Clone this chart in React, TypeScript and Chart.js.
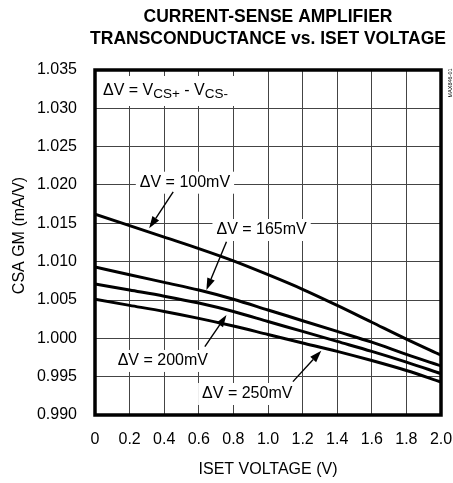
import React, { useEffect, useRef } from 'react';
import { Chart, registerables } from 'chart.js';

Chart.register(...registerables);

// ---- data ----
const isetVoltage = [0, 0.2, 0.4, 0.6, 0.8, 1.0, 1.2, 1.4, 1.6, 1.8, 2.0];
const gm100mV = [1.0162, 1.0147, 1.0132, 1.0117, 1.0101, 1.0083, 1.0064, 1.0043, 1.0021, 0.9999, 0.9978];
const gm165mV = [1.0093, 1.0083, 1.0073, 1.0063, 1.0051, 1.0037, 1.0023, 1.0009, 0.9995, 0.9979, 0.9964];
const gm200mV = [1.0071, 1.0063, 1.0055, 1.0046, 1.0035, 1.0022, 1.0009, 0.9996, 0.9983, 0.9969, 0.9954];
const gm250mV = [1.0051, 1.0043, 1.0035, 1.0026, 1.0016, 1.0005, 0.9994, 0.9983, 0.9971, 0.9958, 0.9943];

const seriesLabels = ['ΔV = 100mV', 'ΔV = 165mV', 'ΔV = 200mV', 'ΔV = 250mV'];
const seriesValues = [gm100mV, gm165mV, gm200mV, gm250mV];

const xMin = 0;
const xMax = 2;
const xStep = 0.2;
const yMin = 0.99;
const yMax = 1.035;
const yStep = 0.005;

const titleLines = ['CURRENT-SENSE AMPLIFIER', 'TRANSCONDUCTANCE vs. ISET VOLTAGE'];
const xTitle = 'ISET VOLTAGE (V)';
const yTitle = 'CSA GM (mA/V)';
const figureId = 'MAX846-01';

// label anchors in data units: [textX, textY, arrowFromX, arrowFromY, arrowTipX, arrowTipY]
const labelAnchors = [
  [0.52, 1.0203, 0.452, 1.0191, 0.313, 1.01435],
  [0.963, 1.01413, 0.76, 1.0126, 0.644, 1.0063],
  [0.392, 0.99705, 0.635, 0.99891, 0.76, 1.00304],
  [0.88, 0.99274, 1.144, 0.99435, 1.308, 0.99839],
];
const headerAnchor = [0.046, 1.03174];

const FONT = '"Liberation Sans", Arial, Helvetica, sans-serif';

function drawArrow(ctx: CanvasRenderingContext2D, x1: number, y1: number, x2: number, y2: number) {
  const ang = Math.atan2(y2 - y1, x2 - x1);
  const headLen = 12;
  const headHalf = 4;
  const bx = x2 - headLen * Math.cos(ang);
  const by = y2 - headLen * Math.sin(ang);
  ctx.save();
  ctx.strokeStyle = '#000';
  ctx.fillStyle = '#000';
  ctx.lineWidth = 1.4;
  ctx.beginPath();
  ctx.moveTo(x1, y1);
  ctx.lineTo(bx, by);
  ctx.stroke();
  ctx.beginPath();
  ctx.moveTo(x2, y2);
  ctx.lineTo(bx + headHalf * Math.sin(ang), by - headHalf * Math.cos(ang));
  ctx.lineTo(bx - headHalf * Math.sin(ang), by + headHalf * Math.cos(ang));
  ctx.closePath();
  ctx.fill();
  ctx.restore();
}

const decorPlugin = {
  id: 'decor',
  afterDraw(chart: any) {
    const { ctx, chartArea, scales } = chart;
    const xs = scales.x;
    const ys = scales.y;
    const { left, right, top, bottom } = chartArea;
    ctx.save();

    // labels with white backgrounds
    ctx.font = `16px ${FONT}`;
    ctx.textBaseline = 'middle';
    ctx.textAlign = 'center';
    labelAnchors.forEach((a, i) => {
      const tx = xs.getPixelForValue(a[0]);
      const ty = ys.getPixelForValue(a[1]);
      const w = ctx.measureText(seriesLabels[i]).width;
      ctx.fillStyle = '#fff';
      ctx.fillRect(tx - w / 2 - 4, ty - 11, w + 8, 22);
      ctx.fillStyle = '#000';
      ctx.fillText(seriesLabels[i], tx, ty);
      drawArrow(ctx, xs.getPixelForValue(a[2]), ys.getPixelForValue(a[3]), xs.getPixelForValue(a[4]), ys.getPixelForValue(a[5]));
    });

    // header: ΔV = VCS+ - VCS-
    const hx = xs.getPixelForValue(headerAnchor[0]);
    const hy = ys.getPixelForValue(headerAnchor[1]);
    const parts: [string, boolean][] = [['ΔV = V', false], ['CS+', true], [' - V', false], ['CS-', true]];
    let totalW = 0;
    parts.forEach(([t, sub]) => {
      ctx.font = sub ? `13.5px ${FONT}` : `16px ${FONT}`;
      totalW += ctx.measureText(t).width;
    });
    ctx.fillStyle = '#fff';
    ctx.fillRect(left + 2, hy - 19, hx - left - 2 + totalW + 6, 30);
    ctx.fillStyle = '#000';
    ctx.textAlign = 'left';
    ctx.textBaseline = 'alphabetic';
    let cx = hx;
    parts.forEach(([t, sub]) => {
      ctx.font = sub ? `13.5px ${FONT}` : `16px ${FONT}`;
      ctx.fillText(t, cx, sub ? hy + 3.5 : hy);
      cx += ctx.measureText(t).width;
    });

    // frame
    ctx.strokeStyle = '#000';
    ctx.lineWidth = 3.5;
    ctx.strokeRect(left, top, right - left, bottom - top);

    // title
    const mid = (left + right) / 2;
    ctx.textAlign = 'center';
    ctx.textBaseline = 'middle';
    ctx.font = `bold 17.5px ${FONT}`;
    ctx.fillText(titleLines[0], mid, 17);
    ctx.fillText(titleLines[1], mid, 39.5);

    // axis titles
    ctx.font = `16px ${FONT}`;
    ctx.fillText(xTitle, mid, 470);
    ctx.save();
    ctx.translate(20, (top + bottom) / 2 - 7);
    ctx.rotate(-Math.PI / 2);
    ctx.fillText(yTitle, 0, 0);
    ctx.restore();

    // figure id
    ctx.save();
    ctx.translate(450.5, top + 13);
    ctx.rotate(-Math.PI / 2);
    ctx.font = `5.5px ${FONT}`;
    ctx.fillText(figureId, 0, 0);
    ctx.restore();

    ctx.restore();
  },
};

export default function App() {
  const ref = useRef<HTMLCanvasElement>(null);
  useEffect(() => {
    const chart = new Chart(ref.current as HTMLCanvasElement, {
      type: 'line',
      data: {
        labels: isetVoltage,
        datasets: seriesValues.map((vals, i) => ({
          label: seriesLabels[i],
          data: isetVoltage.map((x, j) => ({ x, y: vals[j] })),
          borderColor: '#000',
          borderWidth: 3,
          pointRadius: 0,
          cubicInterpolationMode: 'monotone',
          fill: false,
        })),
      },
      options: {
        responsive: false,
        animation: false,
        devicePixelRatio: 1,
        layout: { padding: { top: 70, right: 12, bottom: 0, left: 0 } },
        plugins: { legend: { display: false }, title: { display: false }, tooltip: { enabled: false } },
        scales: {
          x: {
            type: 'linear',
            min: xMin,
            max: xMax,
            afterFit: (s: any) => { s.height = 68; s.paddingLeft = 0; s.paddingRight = 0; },
            ticks: {
              stepSize: xStep,
              autoSkip: false,
              maxRotation: 0,
              padding: 15,
              color: '#000',
              font: { family: FONT, size: 16 },
              callback: (v: any) => (Math.abs(Number(v)) < 1e-9 ? '0' : Number(v).toFixed(1)),
            },
            grid: { color: '#444', lineWidth: 1, drawTicks: false },
            border: { display: false },
          },
          y: {
            type: 'linear',
            min: yMin,
            max: yMax,
            afterFit: (s: any) => { s.width = 95; s.paddingTop = 0; s.paddingBottom = 0; },
            ticks: {
              stepSize: yStep,
              autoSkip: false,
              padding: 18,
              color: '#000',
              font: { family: FONT, size: 16 },
              callback: (v: any) => Number(v).toFixed(3),
            },
            grid: { color: '#444', lineWidth: 1, drawTicks: false },
            border: { display: false },
          },
        },
      },
      plugins: [decorPlugin],
    } as any);
    return () => chart.destroy();
  }, []);
  return (
    <div style={{ position: 'absolute', left: 0, top: 0, width: 453, height: 483, background: '#fff' }}>
      <canvas ref={ref} width={453} height={483} style={{ display: 'block' }} />
    </div>
  );
}
